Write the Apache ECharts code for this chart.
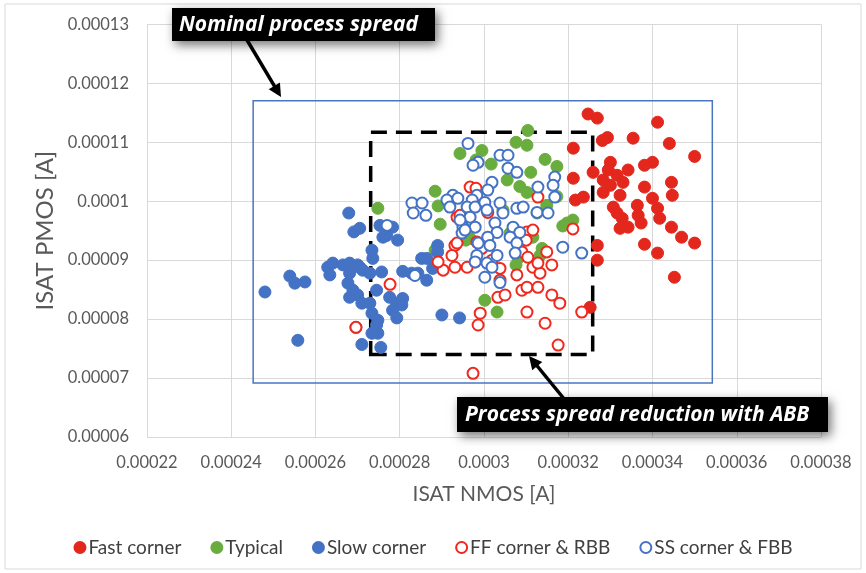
<!DOCTYPE html>
<html>
<head>
<meta charset="utf-8">
<script src="https://cdn.jsdelivr.net/npm/echarts@6/dist/echarts.min.js"></script>
<style>html,body{margin:0;padding:0;background:#fff;}#c{width:866px;height:573px;}</style>
</head>
<body>
<div id="c"></div>
<script>
// ---- data (ISAT NMOS [A], ISAT PMOS [A]) ----
const seriesNames = ['Fast corner', 'Typical', 'Slow corner', 'FF corner & RBB', 'SS corner & FBB'];
const xTicks = [0.00022, 0.00038, 0.00002];   // min, max, step
const yTicks = [0.00006, 0.00013, 0.00001];   // min, max, step
const nominalBox = [0.0002452, 0.0003542, 0.00006917, 0.00011705]; // x1,x2,y1,y2
const abbBox = [0.0002731, 0.0003258, 0.0000740, 0.0001117];

const fastCorner = [[0.0003247,0.0001148],[0.0003269,0.0001141],[0.0003412,0.0001134],[0.0003293,0.0001108],[0.0003281,0.0001103],[0.0003354,0.0001107],[0.0003440,0.0001098],[0.0003212,0.0001090],[0.0003500,0.0001076],[0.0003300,0.0001066],[0.0003400,0.0001066],[0.0003381,0.0001061],[0.0003259,0.0001049],[0.0003342,0.0001053],[0.0003295,0.0001053],[0.0003316,0.0001044],[0.0003283,0.0001036],[0.0003300,0.0001027],[0.0003330,0.0001032],[0.0003381,0.0001024],[0.0003445,0.0001032],[0.0003447,0.0001010],[0.0003212,0.0001039],[0.0003283,0.0001015],[0.0003323,0.0001010],[0.0003236,0.0001007],[0.0003217,0.0001002],[0.0003400,0.0001005],[0.0003364,0.0000993],[0.0003307,0.0000990],[0.0003412,0.0000988],[0.0003316,0.0000980],[0.0003366,0.0000976],[0.0003328,0.0000971],[0.0003417,0.0000971],[0.0003373,0.0000963],[0.0003323,0.0000954],[0.0003342,0.0000956],[0.0003445,0.0000956],[0.0003469,0.0000939],[0.0003500,0.0000929],[0.0003381,0.0000927],[0.0003412,0.0000912],[0.0003269,0.0000925],[0.0003269,0.0000900],[0.0003452,0.0000871],[0.0003252,0.0000820]];

const typical = [[0.0003104,0.0001120],[0.0003076,0.0001100],[0.0003102,0.0001095],[0.0002943,0.0001081],[0.0002995,0.0001086],[0.0002981,0.0001070],[0.0003017,0.0001063],[0.0003145,0.0001071],[0.0003173,0.0001059],[0.0003111,0.0001049],[0.0003055,0.0001036],[0.0003085,0.0001025],[0.0003102,0.0001015],[0.0002884,0.0001017],[0.0002891,0.0000992],[0.0002896,0.0000961],[0.0002748,0.0000988],[0.0003045,0.0000985],[0.0003126,0.0000980],[0.0003149,0.0000993],[0.0003187,0.0000958],[0.0003211,0.0000968],[0.0002957,0.0000934],[0.0003062,0.0000946],[0.0003116,0.0000939],[0.0003138,0.0000920],[0.0003081,0.0000903],[0.0002967,0.0000937],[0.0003076,0.0000892],[0.0003133,0.0000908],[0.0003002,0.0000832],[0.0003031,0.0000812],[0.0002884,0.0000917],[0.0003173,0.0001008],[0.0003197,0.0000963]];

const slowCorner = [[0.0002480,0.0000846],[0.0002539,0.0000873],[0.0002551,0.0000861],[0.0002575,0.0000863],[0.0002558,0.0000764],[0.0002629,0.0000888],[0.0002641,0.0000895],[0.0002665,0.0000892],[0.0002634,0.0000875],[0.0002681,0.0000895],[0.0002700,0.0000892],[0.0002681,0.0000878],[0.0002705,0.0000888],[0.0002712,0.0000883],[0.0002677,0.0000861],[0.0002689,0.0000849],[0.0002681,0.0000837],[0.0002700,0.0000841],[0.0002710,0.0000827],[0.0002679,0.0000980],[0.0002691,0.0000948],[0.0002705,0.0000954],[0.0002734,0.0000917],[0.0002736,0.0000903],[0.0002729,0.0000878],[0.0002757,0.0000880],[0.0002745,0.0000849],[0.0002729,0.0000827],[0.0002734,0.0000810],[0.0002776,0.0000837],[0.0002793,0.0000827],[0.0002783,0.0000815],[0.0002793,0.0000802],[0.0002807,0.0000835],[0.0002805,0.0000824],[0.0002748,0.0000798],[0.0002745,0.0000790],[0.0002748,0.0000776],[0.0002696,0.0000786],[0.0002734,0.0000776],[0.0002710,0.0000757],[0.0002755,0.0000752],[0.0002769,0.0000942],[0.0002783,0.0000956],[0.0002795,0.0000934],[0.0002753,0.0000959],[0.0002760,0.0000939],[0.0002852,0.0000903],[0.0002864,0.0000866],[0.0002828,0.0000878],[0.0002807,0.0000881],[0.0002843,0.0000878],[0.0002890,0.0000925],[0.0002890,0.0000914],[0.0002878,0.0000886],[0.0002864,0.0000903],[0.0002900,0.0000807],[0.0002942,0.0000802]];

const ffRBB = [[0.0003211,0.0000953],[0.0002931,0.0000925],[0.0002924,0.0000908],[0.0002931,0.0000888],[0.0002903,0.0000883],[0.0002891,0.0000897],[0.0002983,0.0000931],[0.0002995,0.0000920],[0.0002960,0.0000888],[0.0002979,0.0000897],[0.0003019,0.0000900],[0.0003102,0.0000948],[0.0003116,0.0000951],[0.0003149,0.0000914],[0.0003161,0.0000892],[0.0003078,0.0000875],[0.0003116,0.0000888],[0.0003133,0.0000878],[0.0003090,0.0000849],[0.0003102,0.0000854],[0.0003128,0.0000854],[0.0003033,0.0000837],[0.0003050,0.0000841],[0.0003161,0.0000841],[0.0003180,0.0000827],[0.0002991,0.0000810],[0.0002986,0.0000790],[0.0003102,0.0000812],[0.0003145,0.0000793],[0.0003176,0.0000756],[0.0002974,0.0000708],[0.0002967,0.0001024],[0.0002981,0.0001022],[0.0002936,0.0000973],[0.0003090,0.0000914],[0.0003104,0.0000905],[0.0003128,0.0000895],[0.0003038,0.0000886],[0.0003038,0.0000866],[0.0003232,0.0000812],[0.0002943,0.0000976],[0.0003009,0.0000981],[0.0003128,0.0001007],[0.0002777,0.0000859],[0.0002696,0.0000786],[0.0002936,0.0000929],[0.0003100,0.0000934]];

const ssFBB = [[0.0002829,0.0000997],[0.0002832,0.0000980],[0.0002862,0.0000976],[0.0002853,0.0000997],[0.0002770,0.0000959],[0.0002836,0.0000874],[0.0002962,0.0001098],[0.0002986,0.0001066],[0.0002974,0.0001061],[0.0003038,0.0001078],[0.0003057,0.0001078],[0.0003057,0.0001056],[0.0003078,0.0001049],[0.0003168,0.0001041],[0.0003164,0.0001027],[0.0003128,0.0001024],[0.0003019,0.0001032],[0.0003009,0.0001019],[0.0002983,0.0001010],[0.0002972,0.0001002],[0.0002926,0.0001010],[0.0002912,0.0001002],[0.0002919,0.0000990],[0.0002938,0.0001005],[0.0002960,0.0000990],[0.0002979,0.0000990],[0.0003002,0.0000998],[0.0003007,0.0000985],[0.0003038,0.0000997],[0.0003045,0.0000980],[0.0003078,0.0000988],[0.0003093,0.0000990],[0.0003126,0.0000981],[0.0003152,0.0000980],[0.0003168,0.0001007],[0.0002967,0.0000973],[0.0002950,0.0000956],[0.0002979,0.0000956],[0.0002948,0.0000946],[0.0003026,0.0000963],[0.0003031,0.0000947],[0.0003009,0.0000939],[0.0003014,0.0000925],[0.0003069,0.0000956],[0.0003085,0.0000947],[0.0003062,0.0000939],[0.0003078,0.0000929],[0.0003074,0.0000912],[0.0002986,0.0000929],[0.0002983,0.0000908],[0.0002979,0.0000897],[0.0003007,0.0000895],[0.0003019,0.0000888],[0.0003002,0.0000871],[0.0003038,0.0000862],[0.0003031,0.0000908],[0.0003187,0.0000922],[0.0003232,0.0000912],[0.0002943,0.0000968],[0.0002955,0.0000951]];

const RED = '#e3271c', GREEN = '#6aad3f', BLUE = '#4472c4', RED_OPEN = '#f0281e';
const FONT = 'Lato, "Open Sans", sans-serif';
const fmt = v => String(+v.toPrecision(6));

function filled(name, data, color) {
  return { name, type: 'scatter', data, symbol: 'circle', symbolSize: 12,
    itemStyle: { color, borderColor: color, borderWidth: 1, opacity: 1 } };
}
function hollow(name, data, color) {
  return { name, type: 'scatter', data, symbol: 'circle', symbolSize: 11,
    itemStyle: { color: '#ffffff', borderColor: color, borderWidth: 2, opacity: 1 } };
}

// arrow helper (pixel annotation)
function arrow(x1, y1, x2, y2) {
  const dx = x2 - x1, dy = y2 - y1, L = Math.hypot(dx, dy), ux = dx / L, uy = dy / L;
  const hl = 13, hw = 6.5;
  const bx = x2 - ux * hl, by = y2 - uy * hl;
  return [
    { type: 'line', z: 200, shape: { x1, y1, x2: bx + ux * 2, y2: by + uy * 2 }, style: { stroke: '#000', lineWidth: 3.5 } },
    { type: 'polygon', z: 200, shape: { points: [[x2, y2], [bx - uy * hw, by + ux * hw], [bx + uy * hw, by - ux * hw]] }, style: { fill: '#000' } }
  ];
}
function label(x, y, w, h, text, tx) {
  return [
    { type: 'rect', z: 210, shape: { x, y, width: w, height: h }, style: { fill: '#000', shadowBlur: 10, shadowColor: 'rgba(0,0,0,0.55)', shadowOffsetX: 3, shadowOffsetY: 4 } },
    { type: 'text', z: 211, x: tx, y: y + h / 2 + 1, style: { text, fill: '#fff', font: 'italic bold 21px "Open Sans", sans-serif', verticalAlign: 'middle' } }
  ];
}

const chart = echarts.init(document.getElementById('c'), null, { renderer: 'canvas' });
chart.setOption({
  animation: false,
  backgroundColor: '#fff',
  grid: { left: 147, right: 45, top: 24.4, bottom: 136, containLabel: false },
  xAxis: {
    type: 'value', min: xTicks[0], max: xTicks[1], interval: xTicks[2],
    axisLine: { show: false }, axisTick: { show: false },
    splitLine: { show: true, lineStyle: { color: '#d9d9d9', width: 1 } },
    axisLabel: { margin: 17, color: '#595959', fontSize: 16.5, fontFamily: FONT, formatter: fmt },
    name: 'ISAT NMOS [A]', nameLocation: 'middle', nameGap: 47,
    nameTextStyle: { color: '#595959', fontSize: 21, fontFamily: FONT }
  },
  yAxis: {
    type: 'value', min: yTicks[0], max: yTicks[1], interval: yTicks[2],
    axisLine: { show: false }, axisTick: { show: false },
    splitLine: { show: true, lineStyle: { color: '#d9d9d9', width: 1 } },
    axisLabel: { margin: 18, color: '#595959', fontSize: 16.5, fontFamily: FONT, formatter: fmt },
    name: 'ISAT PMOS [A]', nameLocation: 'middle', nameGap: 88, nameRotate: 90,
    nameTextStyle: { color: '#595959', fontSize: 24, fontFamily: FONT }
  },
  legend: {
    data: seriesNames, bottom: 11, left: 'center', icon: 'circle',
    itemWidth: 11, itemHeight: 11, itemGap: 29,
    textStyle: { color: '#404040', fontSize: 19, fontFamily: FONT, padding: [0, 0, 0, -2] }
  },
  series: [
    filled(seriesNames[0], fastCorner, RED),
    filled(seriesNames[1], typical, GREEN),
    filled(seriesNames[2], slowCorner, BLUE),
    hollow(seriesNames[3], ffRBB, RED_OPEN),
    hollow(seriesNames[4], ssFBB, BLUE),
    {
      name: 'boxes', type: 'scatter', data: [], z: 50, silent: true,
      markArea: {
        silent: true,
        label: { show: false },
        data: [
          [{ coord: [nominalBox[0], nominalBox[2]], itemStyle: { color: 'rgba(0,0,0,0)', borderColor: '#4a76c0', borderWidth: 1.5 } },
           { coord: [nominalBox[1], nominalBox[3]] }],
          [{ coord: [abbBox[0], abbBox[2]], itemStyle: { color: 'rgba(0,0,0,0)', borderColor: '#000', borderWidth: 3.5, borderType: [16, 9] } },
           { coord: [abbBox[1], abbBox[3]] }]
        ]
      }
    }
  ],
  graphic: [
    { type: 'rect', z: 1, silent: true, shape: { x: 5, y: 4, width: 856, height: 565 }, style: { fill: 'none', stroke: '#d9d9d9', lineWidth: 1 } },
    ...arrow(247, 40, 281, 97),
    ...arrow(565, 400, 529, 356),
    ...label(172, 8, 263, 33, 'Nominal process spread', 179),
    ...label(457, 397, 371, 35, 'Process spread reduction with ABB', 465)
  ]
});
</script>
</body>
</html>
